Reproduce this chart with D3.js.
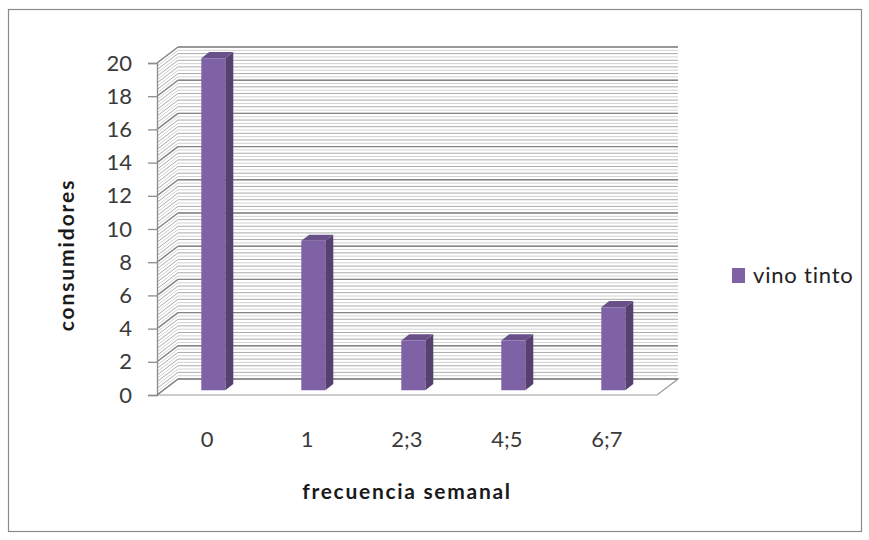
<!DOCTYPE html>
<html>
<head>
<meta charset="utf-8">
<script src="https://cdn.jsdelivr.net/npm/d3@7"></script>
<style>
  html, body { margin: 0; padding: 0; background: #fff; }
  svg { display: block; }
  text { font-family: Lato, "Open Sans", sans-serif; }
</style>
</head>
<body>
<svg id="chart" width="869" height="540"></svg>
<script>
// Weekly red-wine consumption
const categories = ["0", "1", "2;3", "4;5", "6;7"];
const values = [20, 9, 3, 3, 5];
const yTickValues = [0, 2, 4, 6, 8, 10, 12, 14, 16, 18, 20];
const seriesName = "vino tinto";
const xTitle = "frecuencia semanal";
const yTitle = "consumidores";

const svg = d3.select("#chart");

// Outer chart frame
svg.append("rect")
  .attr("x", 8.5).attr("y", 9.5)
  .attr("width", 853).attr("height", 522)
  .attr("fill", "#fff").attr("stroke", "#8a8a8a").attr("stroke-width", 1.2);

// Front plane scales plus an oblique depth offset for the 3D box
const x = d3.scaleBand().domain(categories).range([157, 657])
  .paddingInner(0.76).paddingOuter(0.38);
const y = d3.scaleLinear().domain([0, 20]).range([395, 63]);
const depth = { dx: 21, dy: -16 };
const P = (px, v, d) => [px + depth.dx * d, y(v) + depth.dy * d];

const x0 = x.range()[0], x1 = x.range()[1];
const minorTicks = y.ticks(100);
const majorTicks = y.ticks(10);

// Floor
svg.append("path")
  .attr("d", d3.line()([P(x0, 0, 0), P(x1, 0, 0), P(x1, 0, 1), P(x0, 0, 1)]) + "Z")
  .attr("fill", "#fff").attr("stroke", "#9a9a9a").attr("stroke-width", 1.2);

// Back wall gridlines
const back = svg.append("g");
back.selectAll("line.minor").data(minorTicks).join("line")
  .attr("class", "minor")
  .attr("x1", d => P(x0, d, 1)[0]).attr("x2", d => P(x1, d, 1)[0])
  .attr("y1", d => P(x0, d, 1)[1]).attr("y2", d => P(x1, d, 1)[1])
  .attr("stroke", (d, i) => i % 2 ? "#d2d2d2" : "#ababab").attr("stroke-width", 1);
back.selectAll("line.major").data(majorTicks).join("line")
  .attr("class", "major")
  .attr("x1", d => P(x0, d, 1)[0]).attr("x2", d => P(x1, d, 1)[0])
  .attr("y1", d => P(x0, d, 1)[1]).attr("y2", d => P(x1, d, 1)[1])
  .attr("stroke", "#858585").attr("stroke-width", 1.4);

// Side wall gridlines (diagonal)
const side = svg.append("g");
side.selectAll("line.minor").data(minorTicks).join("line")
  .attr("x1", d => P(x0, d, 0)[0]).attr("x2", d => P(x0, d, 1)[0])
  .attr("y1", d => P(x0, d, 0)[1]).attr("y2", d => P(x0, d, 1)[1])
  .attr("stroke", (d, i) => i % 2 ? "#d2d2d2" : "#ababab").attr("stroke-width", 1);
side.selectAll("line.major").data(majorTicks).join("line")
  .attr("x1", d => P(x0, d, 0)[0]).attr("x2", d => P(x0, d, 1)[0])
  .attr("y1", d => P(x0, d, 0)[1]).attr("y2", d => P(x0, d, 1)[1])
  .attr("stroke", "#858585").attr("stroke-width", 1.4);

// Bars as 3D prisms
const dFront = 0.3, dBack = 0.68;
const bars = svg.append("g").selectAll("g")
  .data(categories.map((c, i) => ({ c, v: values[i] }))).join("g");
bars.append("path") // right side face
  .attr("d", d => {
    const xr = x(d.c) + x.bandwidth();
    return d3.line()([P(xr, 0, dFront), P(xr, 0, dBack), P(xr, d.v, dBack), P(xr, d.v, dFront)]) + "Z";
  })
  .attr("fill", "#56406f");
bars.append("path") // top face
  .attr("d", d => {
    const xl = x(d.c), xr = xl + x.bandwidth();
    return d3.line()([P(xl, d.v, dFront), P(xr, d.v, dFront), P(xr, d.v, dBack), P(xl, d.v, dBack)]) + "Z";
  })
  .attr("fill", "#6a5089");
bars.append("path") // front face
  .attr("d", d => {
    const xl = x(d.c), xr = xl + x.bandwidth();
    return d3.line()([P(xl, 0, dFront), P(xr, 0, dFront), P(xr, d.v, dFront), P(xl, d.v, dFront)]) + "Z";
  })
  .attr("fill", "#7f62a6");

// Value axis on the front-left edge
const yAxis = svg.append("g").attr("transform", `translate(${x0},0)`)
  .call(d3.axisLeft(y).tickValues(yTickValues).tickSize(9).tickPadding(16).tickFormat(d3.format("d")));
yAxis.select(".domain").attr("stroke", "#8c8c8c").attr("stroke-width", 1.3);
yAxis.selectAll(".tick line").attr("stroke", "#8c8c8c").attr("stroke-width", 1.3);
yAxis.selectAll(".tick text")
  .attr("font-family", "Lato, sans-serif").attr("font-size", 22).attr("fill", "#3a3a3a");

// Category labels
const xAxis = svg.append("g").attr("transform", `translate(0,${y(0)})`)
  .call(d3.axisBottom(x).tickSize(0).tickPadding(36));
xAxis.select(".domain").remove();
xAxis.selectAll(".tick text")
  .attr("font-family", "Lato, sans-serif").attr("font-size", 22).attr("fill", "#3a3a3a");

// Axis titles
svg.append("text")
  .attr("x", 407).attr("y", 499).attr("text-anchor", "middle")
  .attr("font-size", 21).attr("font-weight", "bold").attr("letter-spacing", 1.7).attr("fill", "#1a1a1a")
  .text(xTitle);
svg.append("text")
  .attr("transform", "translate(74,255) rotate(-90)").attr("text-anchor", "middle")
  .attr("font-size", 21).attr("font-weight", "bold").attr("letter-spacing", 1.9).attr("fill", "#1a1a1a")
  .text(yTitle);

// Legend
const legend = svg.append("g").attr("transform", "translate(732,268)");
legend.append("rect").attr("width", 13).attr("height", 15).attr("fill", "#7f62a6");
legend.append("text").attr("x", 21).attr("y", 15)
  .attr("font-size", 22).attr("letter-spacing", 0.8).attr("fill", "#222").text(seriesName);
</script>
</body>
</html>
